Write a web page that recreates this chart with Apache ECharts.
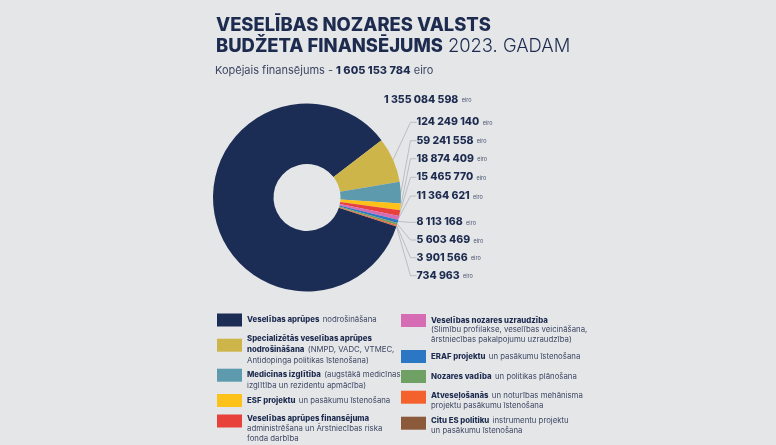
<!DOCTYPE html>
<html><head><meta charset="utf-8">
<script src="https://cdn.jsdelivr.net/npm/echarts@6/dist/echarts.min.js"></script>
<style>html,body{margin:0;padding:0;background:#e5e6e8}#c{width:776px;height:445px}</style>
</head><body><div id="c"></div>
<script>
// ---- data ----
const categories = [
  'Veselības aprūpes nodrošināšana',
  'Specializētās veselības aprūpes nodrošināšana',
  'Medicīnas izglītība',
  'ESF projektu un pasākumu īstenošana',
  'Veselības aprūpes finansējuma administrēšana',
  'Veselības nozares uzraudzība',
  'ERAF projektu un pasākumu īstenošana',
  'Nozares vadība un politikas plānošana',
  'Atveseļošanās un noturības mehānisma projektu pasākumu īstenošana',
  'Citu ES politiku instrumentu projektu un pasākumu īstenošana'
];
const values = [1355084598, 124249140, 59241558, 18874409, 15465770, 11364621, 8113168, 5603469, 3901566, 734963];
const totalFunding = 1605153784;
const legendTexts = [
  '{b|Veselības aprūpes} {n|nodrošināšana}',
  '{b|Specializētās veselības aprūpes}\n{b|nodrošināšana} {n|(NMPD, VADC, VTMEC,}\n{n|Antidopinga politikas īstenošana)}',
  '{b|Medicīnas izglītība} {n|(augstākā medicīnas}\n{n|izglītība un rezidentu apmācība)}',
  '{b|ESF projektu} {n|un pasākumu īstenošana}',
  '{b|Veselības aprūpes finansējuma}\n{n|administrēšana un Ārstniecības riska}\n{n|fonda darbība}',
  '{b|Veselības nozares uzraudzība}\n{n|(Slimību profilakse, veselības veicināšana,}\n{n|ārstniecības pakalpojumu uzraudzība)}',
  '{b|ERAF projektu} {n|un pasākumu īstenošana}',
  '{b|Nozares vadība} {n|un politikas plānošana}',
  '{b|Atveseļošanās} {n|un noturības mehānisma}\n{n|projektu pasākumu īstenošana}',
  '{b|Citu ES politiku} {n|instrumentu projektu}\n{n|un pasākumu īstenošana}'
];
const titleLine1 = 'VESELĪBAS NOZARES VALSTS';
const titleLine2Bold = 'BUDŽETA FINANSĒJUMS';
const titleLine2Rest = '2023. GADAM';
const unit = 'eiro';

// ---- styles / layout ----
const colors = ['#1c2d55', '#cdb54a', '#5d9aad', '#fcc21a', '#e8413b', '#d66cb4', '#2b77c3', '#6fa064', '#f4612d', '#8a5a3b'];
const NAVY = '#1d2b4f';
const labelX = [384, 416.5, 416.5, 416.5, 416.5, 416.5, 416.5, 416.5, 416.5, 416.5];
const labelY = [99.5, 122.3, 140.7, 158.7, 177.3, 196, 222.3, 240, 257.7, 275.7];
// [icon left, icon centre y, first text line centre y]
const legendPos = [[217, 320, 320], [217, 343.5, 338.5], [217, 373.5, 373], [217, 400.5, 399.5], [217, 420.5, 418.5],
                   [401, 320, 320], [401, 356.5, 357], [401, 376.5, 375.5], [401, 395.5, 393.5], [401, 421.5, 418.5]];
const LH = 9.6;
const FONT = 'Inter';

function fmt(v) { return String(v).replace(/\B(?=(\d{3})+(?!\d))/g, ' '); }

const legends = categories.map((name, i) => {
  const n = legendTexts[i].split('\n').length;
  const c = legendPos[i][1];
  const d = c - legendPos[i][2];
  // text block is centred on the icon; a spacer line on top pushes the first line down
  const h0 = Math.max(0, (n - 1) * LH - 2 * d);
  const useSpacer = n > 1 && h0 > 0.5;
  const text = (useSpacer ? '{s| }\n' : '') + legendTexts[i];
  return {
    data: [name], left: legendPos[i][0], top: c - Math.max(13, n * LH) / 2, padding: 0,
    icon: 'rect', itemWidth: 25, itemHeight: 13, selectedMode: false,
    formatter: () => text,
    textStyle: {
      rich: {
        s: { fontFamily: FONT, fontSize: 1, lineHeight: h0 },
        b: { fontFamily: FONT, fontSize: 7.8, fontWeight: 800, color: NAVY, lineHeight: LH },
        n: { fontFamily: FONT, fontSize: 7.8, fontWeight: 400, color: '#3d4763', lineHeight: LH }
      }
    }
  };
});

const chart = echarts.init(document.getElementById('c'), null, { renderer: 'canvas' });
chart.setOption({
  backgroundColor: '#e5e6e8',
  animation: false,
  color: colors,
  title: [
    {
      left: 216, top: 14.5, padding: 0,
      text: '{b|' + titleLine1 + '}\n{b|' + titleLine2Bold + '} {n|' + titleLine2Rest + '}',
      textStyle: {
        rich: {
          b: { fontFamily: FONT, fontSize: 18.4, fontWeight: 800, color: NAVY, lineHeight: 21 },
          n: { fontFamily: FONT, fontSize: 18.4, fontWeight: 300, color: NAVY, lineHeight: 21 }
        }
      }
    },
    {
      left: 215, top: 64, padding: 0,
      text: '{n|Kopējais finansējums - }{b|' + fmt(totalFunding) + '}{n| ' + unit + '}',
      textStyle: {
        rich: {
          b: { fontFamily: FONT, fontSize: 11, fontWeight: 800, color: NAVY, lineHeight: 14 },
          n: { fontFamily: FONT, fontSize: 11, fontWeight: 400, color: '#3d4763', lineHeight: 14 }
        }
      }
    }
  ],
  legend: legends,
  series: [{
    type: 'pie',
    center: [307, 197.5],
    radius: [33.5, 94],
    startAngle: 342,
    clockwise: true,
    avoidLabelOverlap: false,
    silent: true,
    emphasis: { disabled: true },
    itemStyle: { borderWidth: 0 },
    label: {
      show: true,
      position: 'outside',
      formatter: p => '{v|' + fmt(p.value) + '} {e|' + unit + '}',
      rich: {
        v: { fontFamily: FONT, fontSize: 10.5, fontWeight: 800, color: NAVY },
        e: { fontFamily: FONT, fontSize: 5.5, fontWeight: 400, color: '#4a5570', padding: [2, 0, 0, 0] }
      }
    },
    labelLine: { show: true, length: 6, length2: 6, lineStyle: { color: '#aeb3ba', width: 0.8 } },
    labelLayout: p => ({ x: labelX[p.dataIndex], y: labelY[p.dataIndex], align: 'left', verticalAlign: 'middle' }),
    data: categories.map((name, i) => ({
      name: name, value: values[i],
      labelLine: i === 0 ? { show: false } : undefined
    }))
  }]
});
</script></body></html>
